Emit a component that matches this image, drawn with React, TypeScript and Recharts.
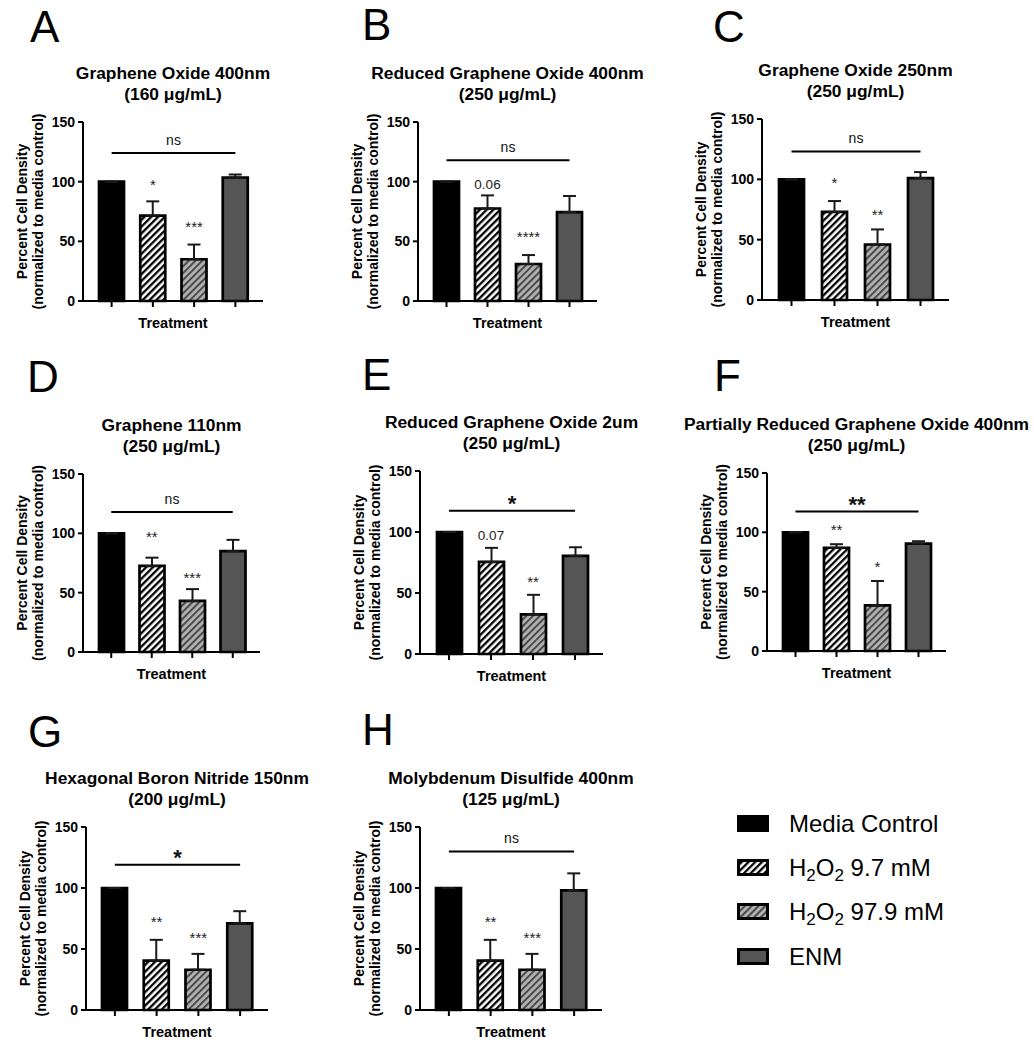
import { BarChart, Bar, XAxis, YAxis, ErrorBar, Cell, ReferenceLine, ReferenceDot } from 'recharts';

const FONT = '"Liberation Sans", Arial, Helvetica, sans-serif';

// treatment groups (x categories)
const GROUPS = ['Media Control', 'H2O2 9.7 mM', 'H2O2 97.9 mM', 'ENM'];
const Y_TICKS = [0, 50, 100, 150];

const LETTERS = ['A', 'B', 'C', 'D', 'E', 'F', 'G', 'H'];
const TITLES = [
  'Graphene Oxide 400nm',
  'Reduced Graphene Oxide 400nm',
  'Graphene Oxide 250nm',
  'Graphene 110nm',
  'Reduced Graphene Oxide 2um',
  'Partially Reduced Graphene Oxide 400nm',
  'Hexagonal Boron Nitride 150nm',
  'Molybdenum Disulfide 400nm',
];
const DOSES = [
  '(160 μg/mL)',
  '(250 μg/mL)',
  '(250 μg/mL)',
  '(250 μg/mL)',
  '(250 μg/mL)',
  '(250 μg/mL)',
  '(200 μg/mL)',
  '(125 μg/mL)',
];

// mean percent cell density per group, one row per panel
const MEANS = [
  [100, 71.5, 35, 103.5],
  [100, 77.5, 31, 74.5],
  [100, 73, 46, 101],
  [100, 72.5, 43, 85],
  [100, 75.5, 32.5, 80.5],
  [100, 87, 38.5, 90.5],
  [100, 40.5, 33, 71],
  [100, 40.5, 33, 98],
];
// upper error (SD)
const SDS = [
  [0, 12, 12.3, 2.5],
  [0, 11, 7.5, 13.5],
  [0, 9, 12.5, 5],
  [0, 7, 10, 9.5],
  [0, 11.5, 16, 7],
  [0, 3, 20.5, 2],
  [0, 17, 13, 10],
  [0, 17, 13, 14],
];

// significance marks over the two H2O2 groups, and their height
const BAR_MARKS = [
  ['*', '***'],
  ['0.06', '****'],
  ['*', '**'],
  ['**', '***'],
  ['0.07', '**'],
  ['**', '*'],
  ['**', '***'],
  ['**', '***'],
];
const BAR_MARK_Y = [
  [100, 65],
  [98, 57],
  [99.5, 73],
  [100, 65],
  [97.5, 62],
  [105, 74],
  [75, 62],
  [75, 62],
];
// overall comparison bracket
const BRACKET_TEXT = ['ns', 'ns', 'ns', 'ns', '*', '**', '*', 'ns'];
const BRACKET_Y = [124, 118, 123, 118, 117.5, 117.5, 119, 130];

// page layout of each panel's plot box
const FRAMES = [
  { x0: 83, x1: 263, yt: 122, yb: 301, lx: 30, ly: 42 },
  { x0: 418, x1: 597, yt: 122, yb: 301, lx: 362, ly: 40 },
  { x0: 762, x1: 949, yt: 119, yb: 300, lx: 713, ly: 42 },
  { x0: 83, x1: 260, yt: 474, yb: 652, lx: 27, ly: 392 },
  { x0: 420, x1: 603, yt: 471, yb: 654, lx: 362, ly: 390 },
  { x0: 767, x1: 946, yt: 473, yb: 651, lx: 714, ly: 391 },
  { x0: 86, x1: 268, yt: 827, yb: 1010, lx: 28, ly: 747 },
  { x0: 420, x1: 602, yt: 827, yb: 1010, lx: 362, ly: 745 },
];

const LEGEND_Y = [832, 876, 920, 965];

// distance from a glyph's visual centre down to its baseline
const centerShift = (t: string, fs: number) =>
  /^\*+$/.test(t) ? 0.57 * fs : t === 'ns' ? 0.26 * fs : 0.36 * fs;

function Hatches({ id }: { id: string }) {
  return (
    <defs>
      <pattern id={`hw${id}`} patternUnits="userSpaceOnUse" width="4.8" height="4.8" patternTransform="rotate(45)">
        <rect width="4.8" height="4.8" fill="#fff" />
        <rect width="2.3" height="4.8" fill="#000" />
      </pattern>
      <pattern id={`hg${id}`} patternUnits="userSpaceOnUse" width="4.8" height="4.8" patternTransform="rotate(45)">
        <rect width="4.8" height="4.8" fill="#b2b2b2" />
        <rect width="2" height="4.8" fill="#4a4a4a" />
      </pattern>
    </defs>
  );
}

function Panel({ i }: { i: number }) {
  const f = FRAMES[i];
  const W = f.x1 - f.x0 + 100;
  const H = f.yb - f.yt + 55;
  const rows = GROUPS.map((name, j) => ({ name, value: MEANS[i][j], err: [0, SDS[i][j]] }));
  const fills = ['#000', `url(#hw${i})`, `url(#hg${i})`, '#555'];
  const bt = BRACKET_TEXT[i];
  const btSize = bt === 'ns' ? 14 : 22;
  return (
    <div style={{ position: 'absolute', left: f.x0 - 90, top: f.yt - 20, fontFamily: FONT }}>
      <BarChart width={W} height={H} data={rows} margin={{ top: 20, right: 10, left: 30, bottom: 5 }}>
        <Hatches id={String(i)} />
        <XAxis
          dataKey="name"
          height={30}
          padding={{ left: 8, right: 7 }}
          tickFormatter={() => ''}
          tickSize={6}
          axisLine={{ stroke: '#000', strokeWidth: 2 }}
          tickLine={{ stroke: '#000', strokeWidth: 2 }}
        />
        <YAxis
          width={60}
          domain={[0, 150]}
          ticks={Y_TICKS}
          interval={0}
          tickSize={5}
          tickMargin={3}
          tick={{ fontSize: 14, fontWeight: 700, fill: '#000', fontFamily: FONT }}
          axisLine={{ stroke: '#000', strokeWidth: 2 }}
          tickLine={{ stroke: '#000', strokeWidth: 2 }}
        />
        <Bar dataKey="value" barSize={25} stroke="#000" strokeWidth={2.7} isAnimationActive={false}>
          {rows.map((_, j) => (
            <Cell key={j} fill={fills[j]} />
          ))}
          <ErrorBar dataKey="err" width={6.5} strokeWidth={2} stroke="#1a1a1a" direction="y" />
        </Bar>
        <ReferenceLine
          segment={[
            { x: GROUPS[0], y: BRACKET_Y[i] },
            { x: GROUPS[3], y: BRACKET_Y[i] },
          ]}
          shape={(p: any) => (
            <g>
              <line x1={p.x1} y1={p.y1} x2={p.x2} y2={p.y2} stroke="#000" strokeWidth={2} />
              <text
                x={(p.x1 + p.x2) / 2}
                y={p.y1 - 12 + centerShift(bt, btSize)}
                textAnchor="middle"
                fontSize={btSize}
                fontWeight={bt === 'ns' ? 400 : 700}
                fill="#111"
                fontFamily={FONT}
              >
                {bt}
              </text>
            </g>
          )}
        />
        {BAR_MARKS[i].map((t, k) => (
          <ReferenceDot
            key={k}
            x={GROUPS[k + 1]}
            y={BAR_MARK_Y[i][k]}
            r={0}
            shape={(p: any) => (
              <text
                x={p.cx}
                y={p.cy + centerShift(t, t.includes('*') ? 15 : 13.5)}
                textAnchor="middle"
                fontSize={t.includes('*') ? 15 : 13.5}
                fill="#222"
                fontFamily={FONT}
              >
                {t}
              </text>
            )}
          />
        ))}
      </BarChart>
    </div>
  );
}

function LegendLabel({ label }: { label: string }) {
  if (!label.startsWith('H2O2')) return <>{label}</>;
  const rest = label.slice(4);
  return (
    <>
      <tspan>H</tspan>
      <tspan dy={5} fontSize={17}>2</tspan>
      <tspan dy={-5}>O</tspan>
      <tspan dy={5} fontSize={17}>2</tspan>
      <tspan dy={-5}>{rest}</tspan>
    </>
  );
}

function Overlay() {
  const swatch = ['#000', 'url(#hwL)', 'url(#hgL)', '#555'];
  return (
    <svg
      width={1034}
      height={1050}
      style={{ position: 'absolute', left: 0, top: 0, pointerEvents: 'none', fontFamily: FONT }}
    >
      <Hatches id="L" />
      {FRAMES.map((f, i) => {
        const cx = (f.x0 + f.x1) / 2;
        const cy = (f.yt + f.yb) / 2;
        return (
          <g key={i}>
            <text x={f.lx} y={f.ly} fontSize={44} fill="#000">
              {LETTERS[i]}
            </text>
            <text x={cx} y={f.yt - 43} textAnchor="middle" fontSize={17.4} fontWeight={700} fill="#000">
              {TITLES[i]}
            </text>
            <text x={cx} y={f.yt - 22} textAnchor="middle" fontSize={17.4} fontWeight={700} fill="#000">
              {DOSES[i]}
            </text>
            <text
              transform={`translate(${f.x0 - 56},${cy}) rotate(-90)`}
              textAnchor="middle"
              fontSize={14}
              fontWeight={700}
              fill="#000"
            >
              Percent Cell Density
            </text>
            <text
              transform={`translate(${f.x0 - 40},${cy}) rotate(-90)`}
              textAnchor="middle"
              fontSize={14}
              fontWeight={700}
              fill="#000"
            >
              (normalized to media control)
            </text>
            <text x={cx} y={f.yb + 27} textAnchor="middle" fontSize={14.5} fontWeight={700} fill="#000">
              Treatment
            </text>
          </g>
        );
      })}
      {GROUPS.map((g, k) => (
        <g key={g}>
          <rect
            x={738.5}
            y={LEGEND_Y[k] - 15.5}
            width={29}
            height={14}
            fill={swatch[k]}
            stroke="#000"
            strokeWidth={3}
          />
          <text x={789} y={LEGEND_Y[k]} fontSize={24} fill="#000">
            <LegendLabel label={g} />
          </text>
        </g>
      ))}
    </svg>
  );
}

export default function App() {
  return (
    <div style={{ position: 'absolute', left: 0, top: 0, width: 1034, height: 1050, background: '#fff' }}>
      {FRAMES.map((_, i) => (
        <Panel key={i} i={i} />
      ))}
      <Overlay />
    </div>
  );
}
